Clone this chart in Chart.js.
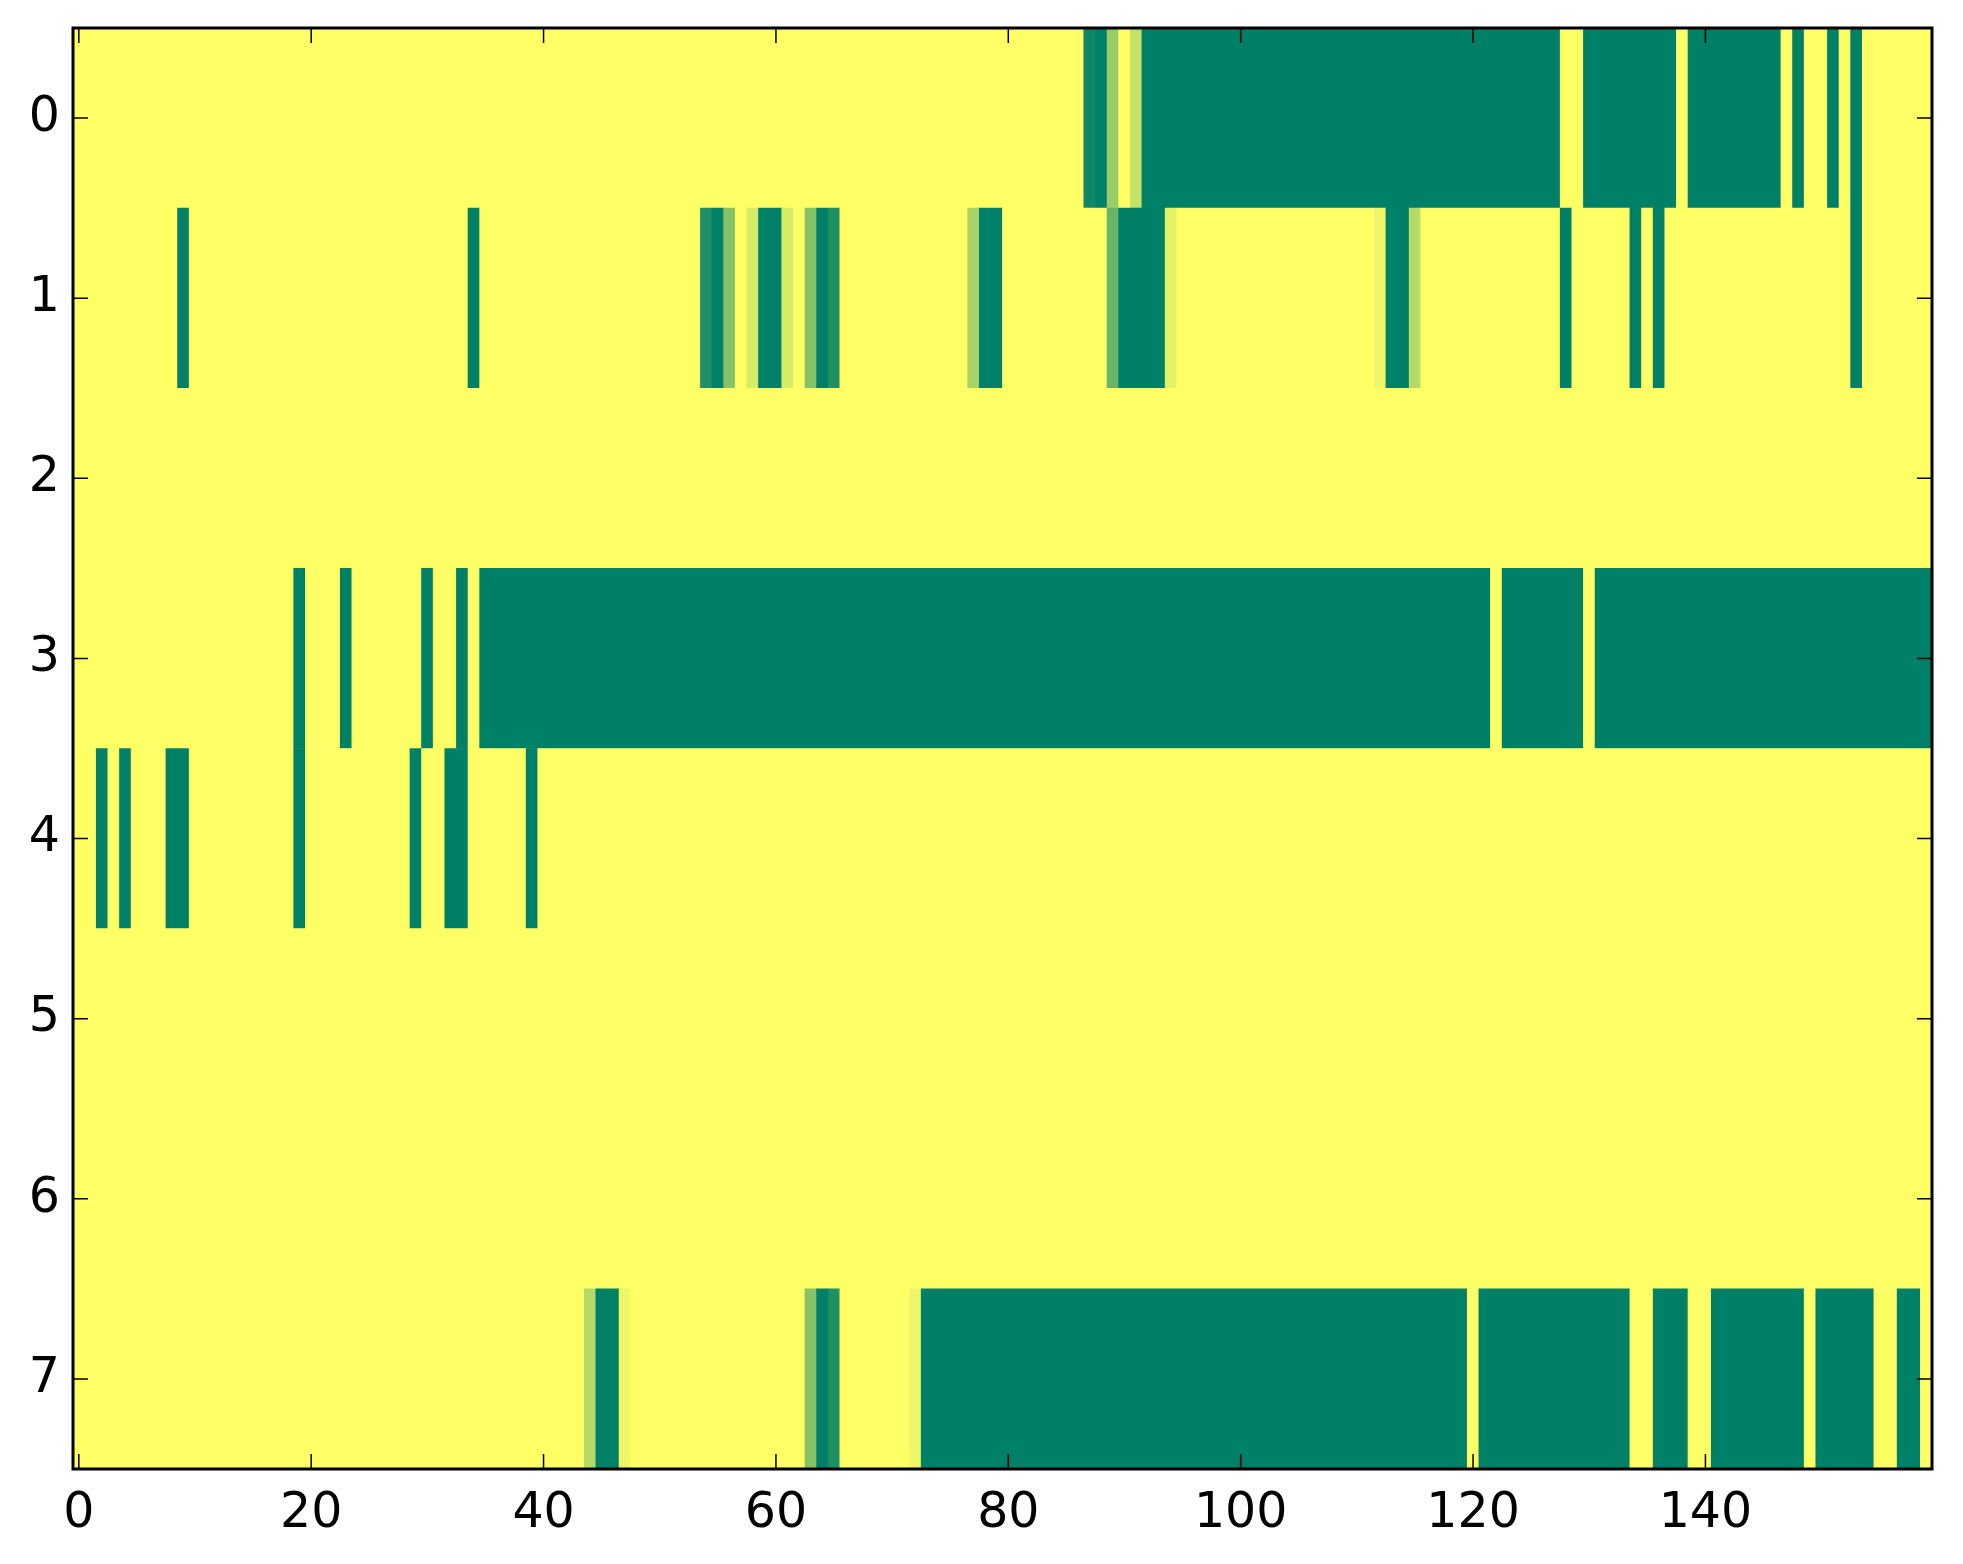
<!DOCTYPE html>
<html lang="en">
<head>
    <meta charset="UTF-8">
    <title>Heatmap</title>
    <script src="https://cdn.jsdelivr.net/npm/chart.js"></script>
    <style>
        body {
            margin: 0;
            background: #fff;
        }

        .wrap {
            width: 1963px;
            height: 1564px;
        }
    </style>
</head>
<body>

    <div class="wrap">
        <canvas id="heat"></canvas>
    </div>

    <script>
        // tick labels
        const rowTicks = [0, 1, 2, 3, 4, 5, 6, 7];
        const colTicks = [0, 20, 40, 60, 80, 100, 120, 140];

        // one array per row, 160 columns each (0 = yellow, 1 = dark green)
        const row0 = [
            0,0,0,0,0,0,0,0,0,0,0,0,0,0,0,0,0,0,0,0,
            0,0,0,0,0,0,0,0,0,0,0,0,0,0,0,0,0,0,0,0,
            0,0,0,0,0,0,0,0,0,0,0,0,0,0,0,0,0,0,0,0,
            0,0,0,0,0,0,0,0,0,0,0,0,0,0,0,0,0,0,0,0,
            0,0,0,0,0,0,0,.94,1,.4,0,.23,1,1,1,1,1,1,1,1,
            1,1,1,1,1,1,1,1,1,1,1,1,1,1,1,1,1,1,1,1,
            1,1,1,1,1,1,1,1,0,0,1,1,1,1,1,1,1,1,0,1,
            1,1,1,1,1,1,1,0,1,0,0,1,0,1,0,0,0,0,0,0
        ];
        const row1 = [
            0,0,0,0,0,0,0,0,0,1,0,0,0,0,0,0,0,0,0,0,
            0,0,0,0,0,0,0,0,0,0,0,0,0,0,1,0,0,0,0,0,
            0,0,0,0,0,0,0,0,0,0,0,0,0,0,.88,1,.47,0,.16,1,
            1,.16,0,.47,1,.88,0,0,0,0,0,0,0,0,0,0,0,.34,1,1,
            0,0,0,0,0,0,0,0,0,.59,1,1,1,1,.11,0,0,0,0,0,
            0,0,0,0,0,0,0,0,0,0,0,0,.06,1,1,.29,0,0,0,0,
            0,0,0,0,0,0,0,0,1,0,0,0,0,0,1,0,1,0,0,0,
            0,0,0,0,0,0,0,0,0,0,0,0,0,1,0,0,0,0,0,0
        ];
        const row2 = [
            0,0,0,0,0,0,0,0,0,0,0,0,0,0,0,0,0,0,0,0,
            0,0,0,0,0,0,0,0,0,0,0,0,0,0,0,0,0,0,0,0,
            0,0,0,0,0,0,0,0,0,0,0,0,0,0,0,0,0,0,0,0,
            0,0,0,0,0,0,0,0,0,0,0,0,0,0,0,0,0,0,0,0,
            0,0,0,0,0,0,0,0,0,0,0,0,0,0,0,0,0,0,0,0,
            0,0,0,0,0,0,0,0,0,0,0,0,0,0,0,0,0,0,0,0,
            0,0,0,0,0,0,0,0,0,0,0,0,0,0,0,0,0,0,0,0,
            0,0,0,0,0,0,0,0,0,0,0,0,0,0,0,0,0,0,0,0
        ];
        const row3 = [
            0,0,0,0,0,0,0,0,0,0,0,0,0,0,0,0,0,0,0,1,
            0,0,0,1,0,0,0,0,0,0,1,0,0,1,0,1,1,1,1,1,
            1,1,1,1,1,1,1,1,1,1,1,1,1,1,1,1,1,1,1,1,
            1,1,1,1,1,1,1,1,1,1,1,1,1,1,1,1,1,1,1,1,
            1,1,1,1,1,1,1,1,1,1,1,1,1,1,1,1,1,1,1,1,
            1,1,1,1,1,1,1,1,1,1,1,1,1,1,1,1,1,1,1,1,
            1,1,0,1,1,1,1,1,1,1,0,1,1,1,1,1,1,1,1,1,
            1,1,1,1,1,1,1,1,1,1,1,1,1,1,1,1,1,1,1,1
        ];
        const row4 = [
            0,0,1,0,1,0,0,0,1,1,0,0,0,0,0,0,0,0,0,1,
            0,0,0,0,0,0,0,0,0,1,0,0,1,1,0,0,0,0,0,1,
            0,0,0,0,0,0,0,0,0,0,0,0,0,0,0,0,0,0,0,0,
            0,0,0,0,0,0,0,0,0,0,0,0,0,0,0,0,0,0,0,0,
            0,0,0,0,0,0,0,0,0,0,0,0,0,0,0,0,0,0,0,0,
            0,0,0,0,0,0,0,0,0,0,0,0,0,0,0,0,0,0,0,0,
            0,0,0,0,0,0,0,0,0,0,0,0,0,0,0,0,0,0,0,0,
            0,0,0,0,0,0,0,0,0,0,0,0,0,0,0,0,0,0,0,0
        ];
        const row5 = [
            0,0,0,0,0,0,0,0,0,0,0,0,0,0,0,0,0,0,0,0,
            0,0,0,0,0,0,0,0,0,0,0,0,0,0,0,0,0,0,0,0,
            0,0,0,0,0,0,0,0,0,0,0,0,0,0,0,0,0,0,0,0,
            0,0,0,0,0,0,0,0,0,0,0,0,0,0,0,0,0,0,0,0,
            0,0,0,0,0,0,0,0,0,0,0,0,0,0,0,0,0,0,0,0,
            0,0,0,0,0,0,0,0,0,0,0,0,0,0,0,0,0,0,0,0,
            0,0,0,0,0,0,0,0,0,0,0,0,0,0,0,0,0,0,0,0,
            0,0,0,0,0,0,0,0,0,0,0,0,0,0,0,0,0,0,0,0
        ];
        const row6 = [
            0,0,0,0,0,0,0,0,0,0,0,0,0,0,0,0,0,0,0,0,
            0,0,0,0,0,0,0,0,0,0,0,0,0,0,0,0,0,0,0,0,
            0,0,0,0,0,0,0,0,0,0,0,0,0,0,0,0,0,0,0,0,
            0,0,0,0,0,0,0,0,0,0,0,0,0,0,0,0,0,0,0,0,
            0,0,0,0,0,0,0,0,0,0,0,0,0,0,0,0,0,0,0,0,
            0,0,0,0,0,0,0,0,0,0,0,0,0,0,0,0,0,0,0,0,
            0,0,0,0,0,0,0,0,0,0,0,0,0,0,0,0,0,0,0,0,
            0,0,0,0,0,0,0,0,0,0,0,0,0,0,0,0,0,0,0,0
        ];
        const row7 = [
            0,0,0,0,0,0,0,0,0,0,0,0,0,0,0,0,0,0,0,0,
            0,0,0,0,0,0,0,0,0,0,0,0,0,0,0,0,0,0,0,0,
            0,0,0,0,.29,1,1,.06,0,0,0,0,0,0,0,0,0,0,0,0,
            0,0,0,.47,1,.88,0,0,0,0,0,0,.06,1,1,1,1,1,1,1,
            1,1,1,1,1,1,1,1,1,1,1,1,1,1,1,1,1,1,1,1,
            1,1,1,1,1,1,1,1,1,1,1,1,1,1,1,1,1,1,1,1,
            0,1,1,1,1,1,1,1,1,1,1,1,1,1,0,0,1,1,1,0,
            0,1,1,1,1,1,1,1,1,0,1,1,1,1,1,0,0,1,1,0
        ];
        const rows = [row0, row1, row2, row3, row4, row5, row6, row7];

        // matplotlib "summer_r": 0 -> #ffff66, 1 -> #008066
        function summerR(v) {
            const r = Math.round(255 * (1 - v));
            const g = Math.round(255 * (1 - v / 2));
            return `rgb(${r},${g},102)`;
        }

        // join neighbouring cells of the same value, so no hairlines show between them
        const cells = [];
        rows.forEach((vals, r) => {
            let start = 0;
            for (let c = 1; c <= vals.length; c++) {
                if (c === vals.length || vals[c] !== vals[start]) {
                    cells.push({ x: [start - 0.5, c - 0.5], y: r, v: vals[start] });
                    start = c;
                }
            }
        });

        // box round the plot with inward ticks on all four sides
        const frame = {
            id: 'frame',
            afterDraw(chart) {
                const { ctx, chartArea: a, scales: { x, y } } = chart;
                const len = 15;
                ctx.save();
                ctx.strokeStyle = '#000';
                ctx.lineWidth = 1.5;
                ctx.beginPath();
                x.ticks.forEach(t => {
                    const px = x.getPixelForValue(t.value);
                    ctx.moveTo(px, a.bottom); ctx.lineTo(px, a.bottom - len);
                    ctx.moveTo(px, a.top); ctx.lineTo(px, a.top + len);
                });
                y.ticks.forEach(t => {
                    const py = y.getPixelForValue(t.value);
                    ctx.moveTo(a.left, py); ctx.lineTo(a.left + len, py);
                    ctx.moveTo(a.right, py); ctx.lineTo(a.right - len, py);
                });
                ctx.stroke();
                ctx.lineWidth = 3;
                ctx.strokeRect(a.left, a.top, a.right - a.left, a.bottom - a.top);
                ctx.restore();
            }
        };

        const tickFont = { family: 'DejaVu Sans', size: 49 };

        new Chart(document.getElementById('heat'), {
            type: 'bar',
            data: {
                datasets: [{
                    data: cells,
                    backgroundColor: c => c.raw ? summerR(c.raw.v) : '#ffff66',
                    borderWidth: 0,
                    barPercentage: 1,
                    categoryPercentage: 1
                }]
            },
            options: {
                indexAxis: 'y',
                responsive: true,
                maintainAspectRatio: false,
                animation: false,
                layout: { padding: { top: 28, right: 31, left: 0, bottom: 0 } },
                plugins: {
                    legend: { display: false },
                    tooltip: { enabled: false }
                },
                scales: {
                    x: {
                        type: 'linear',
                        min: -0.5,
                        max: 159.5,
                        offset: false,
                        grid: { display: false, drawTicks: false },
                        border: { display: false },
                        afterBuildTicks: s => { s.ticks = colTicks.map(v => ({ value: v })); },
                        afterFit: s => { s.height = 95; s.paddingLeft = 0; s.paddingRight = 0; },
                        ticks: { font: tickFont, color: '#000', padding: 16, maxRotation: 0, autoSkip: false }
                    },
                    y: {
                        type: 'linear',
                        reverse: true,
                        min: -0.5,
                        max: 7.5,
                        offset: false,
                        grid: { display: false, drawTicks: false },
                        border: { display: false },
                        afterBuildTicks: s => { s.ticks = rowTicks.map(v => ({ value: v })); },
                        afterFit: s => { s.width = 73; s.paddingTop = 0; s.paddingBottom = 0; },
                        ticks: { font: tickFont, color: '#000', padding: 13, autoSkip: false }
                    }
                }
            },
            plugins: [frame]
        });
    </script>

</body>
</html>
